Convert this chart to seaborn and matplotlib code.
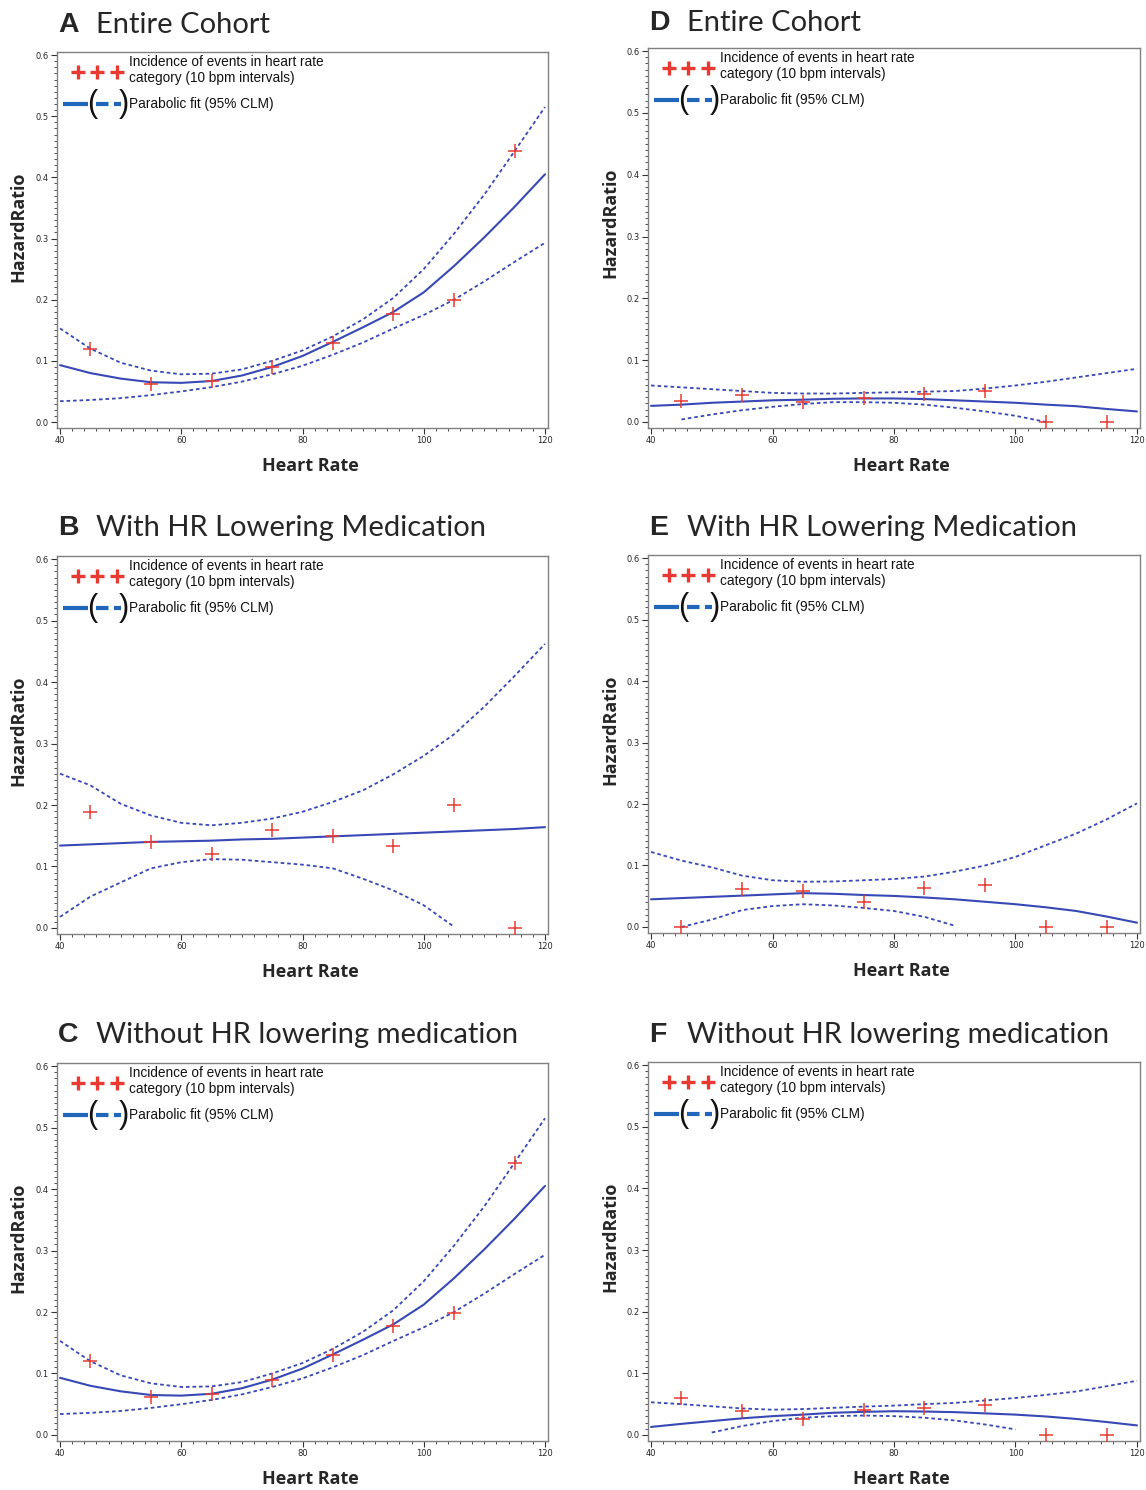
import numpy as np
import pandas as pd
import matplotlib
matplotlib.use("Agg")
import matplotlib.pyplot as plt
import seaborn as sns
from matplotlib.ticker import MultipleLocator

sns.set_theme(style="ticks")
plt.rcParams["font.family"] = ["Liberation Sans", "DejaVu Sans"]

# ---------------- data ----------------
grid_x = [40, 45, 50, 55, 60, 65, 70, 75, 80, 85, 90, 95, 100, 105, 110, 115, 120]
cat_x = [45, 55, 65, 75, 85, 95, 105, 115]
nan = np.nan

# A : Entire cohort
a_fit = [0.093, 0.080, 0.071, 0.065, 0.064, 0.067, 0.076, 0.090, 0.108, 0.131, 0.155, 0.180, 0.212, 0.255, 0.302, 0.352, 0.405]
a_up = [0.153, 0.120, 0.097, 0.084, 0.078, 0.079, 0.086, 0.100, 0.117, 0.140, 0.168, 0.203, 0.250, 0.308, 0.372, 0.443, 0.515]
a_lo = [0.034, 0.036, 0.039, 0.044, 0.050, 0.057, 0.066, 0.078, 0.092, 0.110, 0.130, 0.153, 0.175, 0.200, 0.230, 0.262, 0.293]
a_pts = [0.120, 0.062, 0.067, 0.090, 0.130, 0.177, 0.199, 0.443]

# B : with HR lowering medication
b_fit = [0.134, 0.136, 0.138, 0.140, 0.141, 0.142, 0.144, 0.145, 0.147, 0.149, 0.151, 0.153, 0.155, 0.157, 0.159, 0.161, 0.164]
b_up = [0.251, 0.232, 0.202, 0.183, 0.171, 0.167, 0.171, 0.178, 0.189, 0.205, 0.224, 0.250, 0.280, 0.315, 0.360, 0.410, 0.462]
b_lo = [0.018, 0.051, 0.074, 0.097, 0.107, 0.112, 0.111, 0.107, 0.103, 0.097, 0.080, 0.061, 0.037, 0.002, nan, nan, nan]
b_pts = [0.188, 0.140, 0.121, 0.159, 0.150, 0.133, 0.200, 0.0]

# C : without HR lowering medication (same shape as A)
c_fit = a_fit
c_up = a_up
c_lo = a_lo
c_pts = a_pts

# D : entire cohort (right column)
d_fit = [0.026, 0.028, 0.031, 0.033, 0.035, 0.036, 0.0375, 0.038, 0.038, 0.037, 0.035, 0.033, 0.031, 0.028, 0.0255, 0.021, 0.017]
d_up = [0.059, 0.056, 0.053, 0.050, 0.047, 0.046, 0.046, 0.047, 0.048, 0.049, 0.050, 0.054, 0.059, 0.065, 0.072, 0.079, 0.086]
d_lo = [nan, 0.004, 0.012, 0.019, 0.0245, 0.029, 0.032, 0.032, 0.031, 0.028, 0.023, 0.017, 0.010, 0.0, nan, nan, nan]
d_pts = [0.034, 0.043, 0.033, 0.039, 0.045, 0.050, 0.0, 0.0]

# E : with HR lowering medication (right column)
e_fit = [0.045, 0.047, 0.049, 0.051, 0.053, 0.055, 0.054, 0.052, 0.0505, 0.048, 0.045, 0.041, 0.037, 0.032, 0.026, 0.017, 0.007]
e_up = [0.122, 0.108, 0.097, 0.0835, 0.076, 0.0736, 0.074, 0.076, 0.078, 0.082, 0.090, 0.100, 0.114, 0.133, 0.152, 0.175, 0.201]
e_lo = [nan, 0.0, 0.012, 0.0275, 0.034, 0.037, 0.035, 0.031, 0.026, 0.0165, 0.002, nan, nan, nan, nan, nan, nan]
e_pts = [0.0, 0.0615, 0.059, 0.041, 0.064, 0.068, 0.0, 0.0]

# F : without HR lowering medication (right column)
f_fit = [0.013, 0.018, 0.0225, 0.027, 0.0305, 0.033, 0.036, 0.0375, 0.0385, 0.038, 0.037, 0.035, 0.033, 0.030, 0.026, 0.021, 0.0155]
f_up = [0.053, 0.050, 0.0465, 0.043, 0.041, 0.042, 0.044, 0.046, 0.0476, 0.050, 0.052, 0.056, 0.060, 0.065, 0.0705, 0.079, 0.088]
f_lo = [nan, nan, 0.004, 0.0145, 0.0225, 0.028, 0.0305, 0.0315, 0.0305, 0.028, 0.0235, 0.017, 0.009, nan, nan, nan, nan]
f_pts = [0.060, 0.0385, 0.026, 0.041, 0.043, 0.048, 0.0, 0.0]

panel_letters = ["A", "B", "C", "D", "E", "F"]
panel_titles = ["Entire Cohort", "With HR Lowering Medication", "Without HR lowering medication",
                "Entire Cohort", "With HR Lowering Medication", "Without HR lowering medication"]
legend_texts = ["Incidence of events in heart rate\ncategory (10 bpm intervals)", "Parabolic fit (95% CLM)"]
x_ticks = [40, 60, 80, 100, 120]
y_ticks = [0.0, 0.1, 0.2, 0.3, 0.4, 0.5, 0.6]
x_label = "Heart Rate"
y_label = "HazardRatio"

panels = [
    (a_fit, a_up, a_lo, a_pts),
    (b_fit, b_up, b_lo, b_pts),
    (c_fit, c_up, c_lo, c_pts),
    (d_fit, d_up, d_lo, d_pts),
    (e_fit, e_up, e_lo, e_pts),
    (f_fit, f_up, f_lo, f_pts),
]

# ---------------- layout (pixel boxes: left, top, right, bottom) ----------------
W, H = 1146, 1490
boxes = [
    (57, 52, 548, 428),
    (57, 556, 548, 934),
    (57, 1063, 548, 1441),
    (648, 48, 1140, 428),
    (648, 555, 1140, 933),
    (648, 1062, 1140, 1441),
]
title_y = [25, 528, 1035, 23, 528, 1035]
ylabel_px = [27, 27, 27, 619, 619, 619]

LINE_C = "#3848b4"
RED = "#e83a32"
LEG_BLUE = "#2166b8"

fig = plt.figure(figsize=(W / 100, H / 100), dpi=100)

for i, ((fit, up, lo, pts), (l, t, r, b)) in enumerate(zip(panels, boxes)):
    ax = fig.add_axes([l / W, 1 - b / H, (r - l) / W, (b - t) / H])
    dfc = pd.DataFrame({"x": grid_x, "fit": fit, "up": up, "lo": lo})
    sns.lineplot(data=dfc, x="x", y="up", ax=ax, color=LINE_C, lw=1.3,
                 linestyle=(0, (2.0, 1.6)), estimator=None, sort=False)
    sns.lineplot(data=dfc, x="x", y="lo", ax=ax, color=LINE_C, lw=1.3,
                 linestyle=(0, (2.0, 1.6)), estimator=None, sort=False)
    sns.lineplot(data=dfc, x="x", y="fit", ax=ax, color=LINE_C, lw=1.5,
                 estimator=None, sort=False)
    dfp = pd.DataFrame({"x": cat_x, "y": pts})
    sns.scatterplot(data=dfp, x="x", y="y", ax=ax, marker="+", s=110,
                    color=RED, linewidth=1.1, zorder=5)

    ax.set_xlim(39.5, 120.5)
    ax.set_ylim(-0.0098, 0.605)
    ax.set_xticks(x_ticks)
    ax.set_yticks(y_ticks)
    ax.set_xticklabels([str(v) for v in x_ticks])
    ax.set_yticklabels([f"{v:.1f}" for v in y_ticks])
    ax.xaxis.set_minor_locator(MultipleLocator(2))
    ax.yaxis.set_minor_locator(MultipleLocator(0.01))
    ax.tick_params(axis="both", which="major", direction="out", length=4, width=0.8,
                   labelsize=6, color="#333333", pad=2)
    ax.tick_params(axis="both", which="minor", direction="out", length=2, width=0.6,
                   color="#333333")
    for lab in ax.get_xticklabels() + ax.get_yticklabels():
        lab.set_family("DejaVu Sans")
    for s in ax.spines.values():
        s.set_color("#808080")
        s.set_linewidth(1.0)
        s.set_visible(True)

    aw = r - l
    ah = b - t

    def fx(px):
        return (px - l) / aw

    def fy(py):
        return (b - py) / ah

    ax.set_xlabel(x_label, fontsize=13, fontweight="bold", family=["Open Sans", "DejaVu Sans"])
    ax.set_ylabel(y_label, fontsize=13, fontweight="bold", family=["Open Sans", "DejaVu Sans"])
    ax.xaxis.set_label_coords(fx(l + 253), fy(b + 29))
    ax.yaxis.set_label_coords(fx(ylabel_px[i]), fy(t + 175))

    # in-axes legend (drawn as in the original SAS output)
    for mx in (21, 40, 60):
        ax.plot([fx(l + mx)], [fy(t + 20)], marker="+", ms=10, mew=2.4,
                color=RED, transform=ax.transAxes, clip_on=False)
    ax.text(fx(l + 72), fy(t + 18), legend_texts[0], transform=ax.transAxes,
            fontsize=9.8, va="center", ha="left", linespacing=1.2, color="#111111")
    ly = fy(t + 52)
    ax.plot([fx(l + 6), fx(l + 31)], [ly, ly], color=LEG_BLUE, lw=3,
            transform=ax.transAxes, solid_capstyle="butt")
    ax.plot([fx(l + 39), fx(l + 64)], [ly, ly], color=LEG_BLUE, lw=3,
            linestyle=(0, (3, 1.3)), transform=ax.transAxes)
    ax.text(fx(l + 35), ly, "(", transform=ax.transAxes, fontsize=22,
            va="center", ha="center", color="#111111")
    ax.text(fx(l + 67), ly, ")", transform=ax.transAxes, fontsize=22,
            va="center", ha="center", color="#111111")
    ax.text(fx(l + 72), ly, legend_texts[1], transform=ax.transAxes,
            fontsize=9.8, va="center", ha="left", color="#111111")

    # panel title
    fig.text((l + 1) / W, 1 - title_y[i] / H, panel_letters[i], fontsize=20.5,
             fontweight="bold", va="center", ha="left", family=["Liberation Sans", "DejaVu Sans"])
    fig.text((l + 39) / W, 1 - title_y[i] / H, panel_titles[i], fontsize=21,
             va="center", ha="left", family=["Lato", "DejaVu Sans"])

fig.savefig("out.png", dpi=100)
